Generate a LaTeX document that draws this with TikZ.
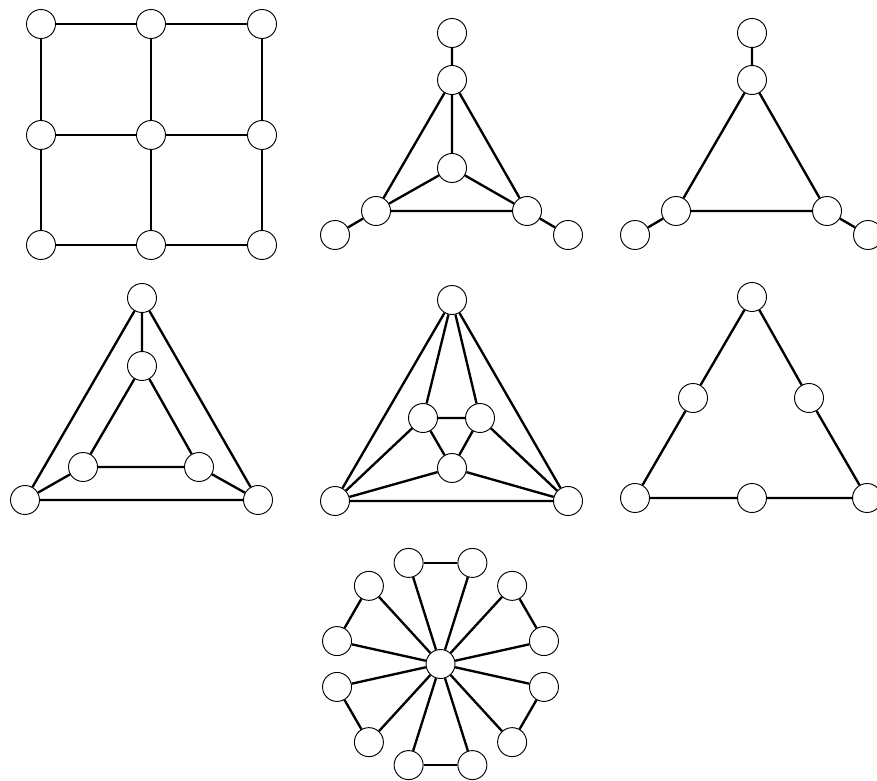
\documentclass[tikz,border=0pt]{standalone}
\usetikzlibrary{positioning}
\begin{document}
\begin{tikzpicture}[x=0.3mm,y=-0.3mm,
  vtx/.style={circle,draw,fill=white,line width=0.8pt,minimum size=8.7mm,inner sep=0pt},
  edg/.style={line width=2pt}]
\useasboundingbox (0,0) rectangle (877,781);
\clip (0,0) rectangle (877,781);
% 3x3 grid
\foreach \i/\x in {1/41,2/151,3/262}
  \foreach \j/\y in {1/24,2/135,3/245}
    \node[vtx] (q\i\j) at (\x,\y) {};
\foreach \i in {1,2,3} {
  \draw[edg] (q1\i)--(q2\i)--(q3\i);
  \draw[edg] (q\i1)--(q\i2)--(q\i3);
}
% triangle with centre and pendants
\node[vtx] (b0) at (452,33) {};
\node[vtx] (b1) at (452,80) {};
\node[vtx] (b2) at (452,168) {};
\node[vtx] (b3) at (376,211) {};
\node[vtx] (b4) at (527,211) {};
\node[vtx] (b5) at (335,235) {};
\node[vtx] (b6) at (568,235) {};
\draw[edg] (b0)--(b1)--(b3)--(b4)--(b1)--(b2)--(b3);
\draw[edg] (b2)--(b4);
\draw[edg] (b3)--(b5);\draw[edg] (b4)--(b6);
% triangle with pendants
\node[vtx] (c0) at (752,33) {};
\node[vtx] (c1) at (752,80) {};
\node[vtx] (c3) at (676,211) {};
\node[vtx] (c4) at (827,211) {};
\node[vtx] (c5) at (635,235) {};
\node[vtx] (c6) at (868,235) {};
\draw[edg] (c0)--(c1)--(c3)--(c4)--(c1);
\draw[edg] (c3)--(c5);\draw[edg] (c4)--(c6);
% nested triangles
\node[vtx] (d0) at (142,298) {};
\node[vtx] (d1) at (142,366) {};
\node[vtx] (d2) at (83,467) {};
\node[vtx] (d3) at (199,467) {};
\node[vtx] (d4) at (25,500) {};
\node[vtx] (d5) at (258,500) {};
\draw[edg] (d0)--(d4)--(d5)--(d0)--(d1)--(d2)--(d3)--(d1);
\draw[edg] (d2)--(d4);\draw[edg] (d3)--(d5);
% triangle with inner triangle, all joined
\node[vtx] (e0) at (452,300) {};
\node[vtx] (e1) at (423,418) {};
\node[vtx] (e2) at (480,418) {};
\node[vtx] (e3) at (452,468) {};
\node[vtx] (e4) at (335,501) {};
\node[vtx] (e5) at (568,501) {};
\draw[edg] (e0)--(e4)--(e5)--(e0);
\draw[edg] (e1)--(e2)--(e3)--(e1);
\foreach \u/\v in {e0/e1,e0/e2,e1/e4,e2/e5,e3/e4,e3/e5}
  \draw[edg] (\u)--(\v);
% subdivided triangle
\node[vtx] (f0) at (752,297) {};
\node[vtx] (f1) at (693,398) {};
\node[vtx] (f2) at (809,398) {};
\node[vtx] (f3) at (635,498) {};
\node[vtx] (f4) at (752,498) {};
\node[vtx] (f5) at (867,498) {};
\draw[edg] (f0)--(f1)--(f3)--(f4)--(f5)--(f2)--(f0);
% wheel of six pairs
\begin{scope}[shift={(440.5,664)}]
\node[vtx] (h) at (0,0) {};
\foreach \c [count=\k, evaluate=\c as \lo using \c-17.5,
             evaluate=\c as \hi using \c+17.5] in {30,90,...,330} {
  \node[vtx] (l\k) at (\lo:106) {};
  \node[vtx] (r\k) at (\hi:106) {};
  \draw[edg] (l\k)--(r\k);
  \draw[edg] (h)--(l\k);\draw[edg] (h)--(r\k);
}
\end{scope}
\end{tikzpicture}
\end{document}
